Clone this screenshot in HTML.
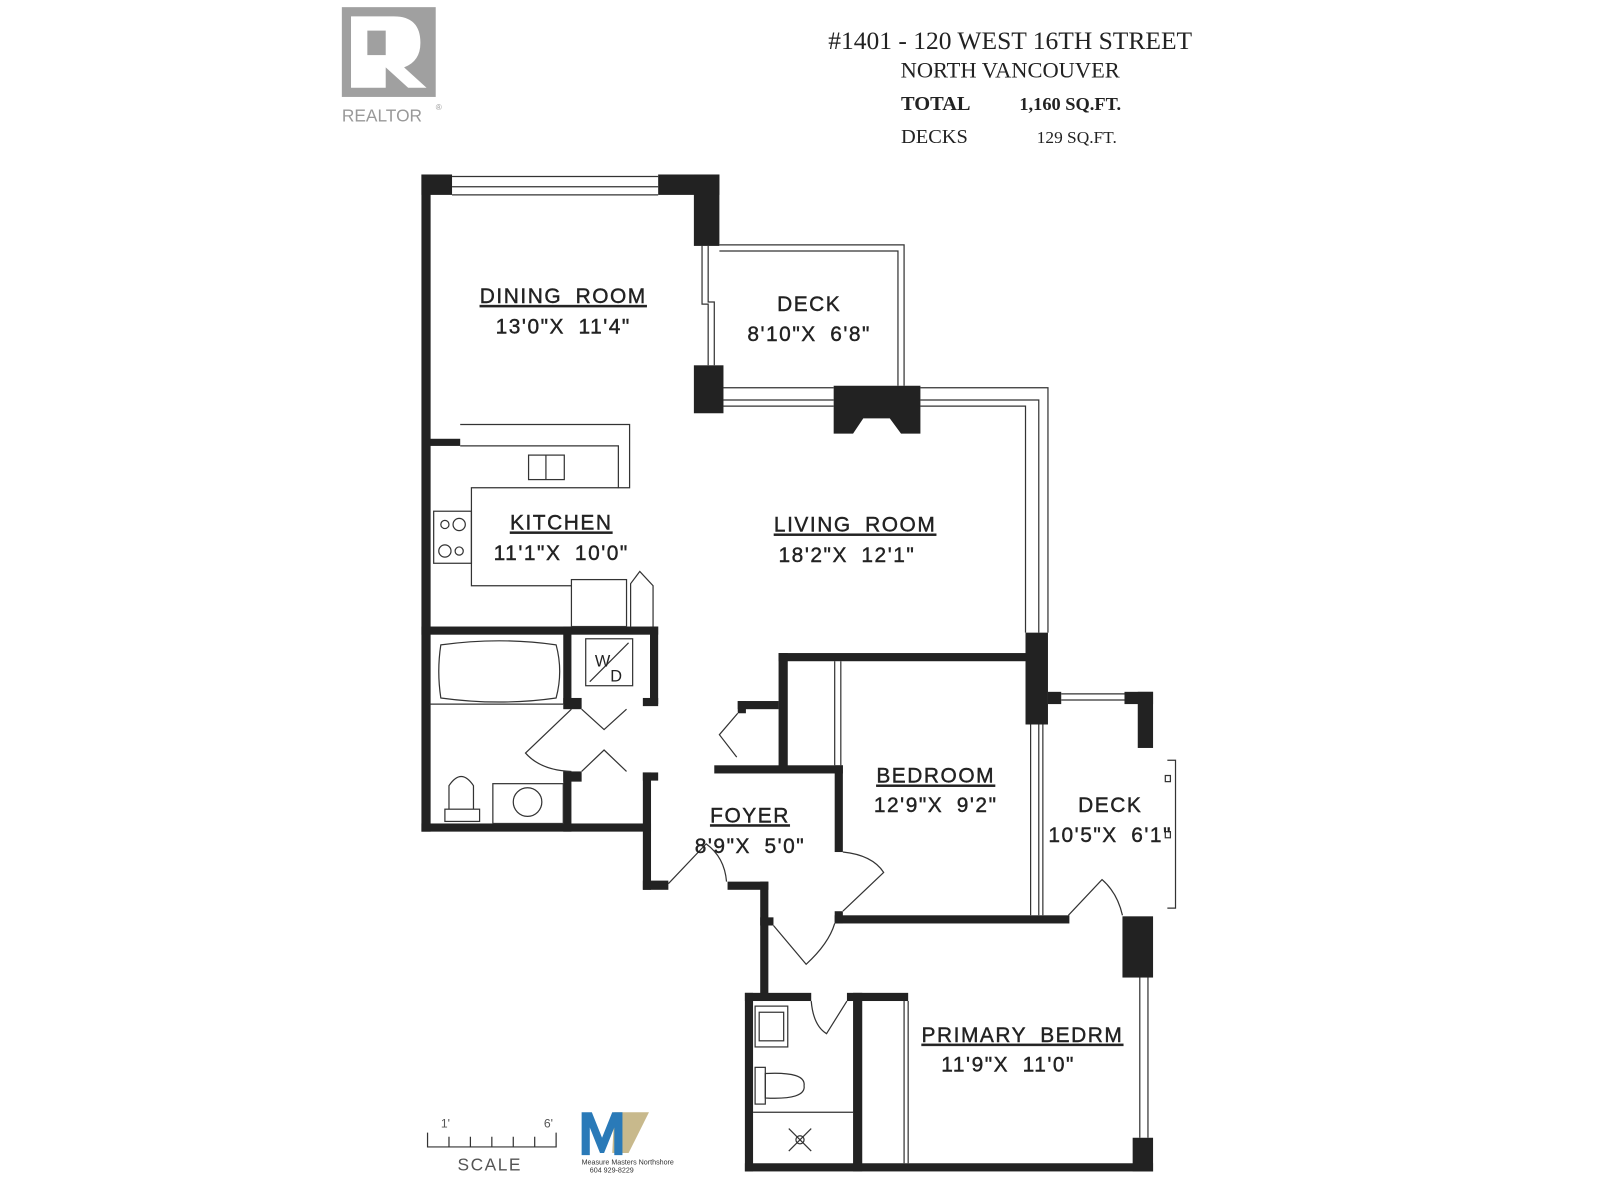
<!DOCTYPE html>
<html><head><meta charset="utf-8"><style>
html,body{margin:0;padding:0;background:#fff;}
svg{display:block;}
.l{font-family:"Liberation Sans",sans-serif;font-size:20.5px;fill:#222;text-anchor:middle;letter-spacing:1.5px;word-spacing:6px;stroke:#222;stroke-width:0.4;}
.s{font-family:"Liberation Serif",serif;fill:#222;}
</style></head><body>
<svg width="1600" height="1200" viewBox="0 0 1568 1176" xmlns="http://www.w3.org/2000/svg">
<rect width="1568" height="1176" fill="#fff"/>
<!-- Realtor logo -->
<rect x="335" y="7" width="92" height="88" fill="#a0a0a0"/>
<path d="M344 16 H386 Q412 16 412 42 Q412 60 396 66 L418 86 H400 L378 66 V86 H344 Z" fill="#fff"/>
<rect x="360" y="30" width="18" height="24" fill="#a0a0a0"/>
<text x="335" y="119" font-family="Liberation Sans,sans-serif" font-size="17" fill="#999">REALTOR</text>
<text x="427" y="108" font-family="Liberation Sans,sans-serif" font-size="8" fill="#999">®</text>
<!-- header -->
<text class="s" x="990" y="48" font-size="25" text-anchor="middle">#1401 - 120 WEST 16TH STREET</text>
<text class="s" x="990" y="76" font-size="22" text-anchor="middle">NORTH VANCOUVER</text>
<text class="s" x="883" y="108" font-size="20" font-weight="bold">TOTAL</text>
<text class="s" x="999" y="108" font-size="18" font-weight="bold">1,160 SQ.FT.</text>
<text class="s" x="883" y="140" font-size="20">DECKS</text>
<text class="s" x="1016" y="140" font-size="17">129 SQ.FT.</text>

<g fill="#222">
<rect x="413" y="171" width="9" height="644"/>
<rect x="413" y="171" width="30" height="20"/>
<rect x="645" y="171" width="60" height="20"/>
<rect x="680" y="171" width="25" height="70"/>
<rect x="680" y="358" width="29" height="47"/>
<path d="M817 378 H902 V425 H883 L872 410 H846 L836 425 H817 Z"/>
<rect x="421" y="430" width="30" height="7"/>
<rect x="413" y="614" width="232" height="8"/>
<rect x="552" y="614" width="8" height="76"/>
<rect x="552" y="684" width="18" height="11"/>
<rect x="637" y="614" width="8" height="76"/>
<rect x="630" y="684" width="15" height="8"/>
<rect x="552" y="756" width="18" height="10"/>
<rect x="552" y="756" width="8" height="59"/>
<rect x="630" y="757" width="15" height="8"/>
<rect x="630" y="757" width="8" height="115"/>
<rect x="413" y="807" width="225" height="8"/>
<rect x="630" y="863" width="25" height="9"/>
<rect x="763" y="640" width="250" height="8"/>
<rect x="763" y="640" width="9" height="117"/>
<rect x="723" y="687" width="40" height="8"/>
<rect x="723" y="687" width="8" height="12"/>
<rect x="700" y="750" width="126" height="8"/>
<rect x="818" y="750" width="8" height="85"/>
<rect x="818" y="893" width="8" height="12"/>
<rect x="818" y="897" width="230" height="8"/>
<rect x="1005" y="620" width="22" height="90"/>
<rect x="1027" y="678" width="13" height="12"/>
<rect x="1102" y="678" width="28" height="12"/>
<rect x="1115" y="678" width="15" height="55"/>
<rect x="1100" y="898" width="30" height="60"/>
<rect x="1110" y="1115" width="20" height="33"/>
<rect x="713" y="864" width="40" height="8"/>
<rect x="745" y="864" width="8" height="111"/>
<rect x="745" y="899" width="13" height="8"/>
<rect x="730" y="973" width="8" height="175"/>
<rect x="730" y="973" width="65" height="8"/>
<rect x="830" y="973" width="60" height="8"/>
<rect x="836" y="973" width="9" height="175"/>
<rect x="730" y="1140" width="400" height="8"/>
</g>

<g fill="none" stroke="#333" stroke-width="1.2">
<line x1="443" y1="173" x2="645" y2="173"/><line x1="443" y1="183" x2="645" y2="183"/><line x1="443" y1="191" x2="645" y2="191"/>
<polyline points="705,240 886,240 886,378"/><polyline points="705,246 880,246 880,378"/>
<polyline points="688,241 688,298 694,298 694,358"/><polyline points="694,241 694,296 700,296 700,358"/>
<line x1="709" y1="380" x2="817" y2="380"/><line x1="709" y1="392" x2="817" y2="392"/><line x1="709" y1="398" x2="817" y2="398"/>
<polyline points="902,380 1027,380 1027,620"/><polyline points="902,392 1018,392 1018,620"/><polyline points="902,398 1005,398 1005,620"/>
<polyline points="451,416 617,416 617,478 606,478 606,437 451,437"/>
<polyline points="606,478 462,478 462,574 560,574"/>
<rect x="518" y="446" width="35" height="24"/><line x1="535" y1="446" x2="535" y2="470"/>
<rect x="425" y="501" width="37" height="51"/>
<circle cx="436" cy="514" r="4"/><circle cx="450" cy="514" r="6"/><circle cx="436" cy="540" r="6"/><circle cx="450" cy="540" r="4"/>
<rect x="560" y="568" width="54" height="46"/>
<polyline points="618,614 618,572 627,560 640,574 640,614"/>
<path d="M432 632 Q490 624 545 632 Q552 658 545 684 Q490 692 432 684 Q428 658 432 632 Z"/>
<line x1="421" y1="690" x2="552" y2="690"/>
<rect x="574" y="626" width="46" height="46"/><line x1="578" y1="668" x2="616" y2="630"/>
<path d="M440 793 V770 Q452 752 464 770 V793"/><rect x="436" y="793" width="34" height="12"/>
<rect x="483" y="768" width="69" height="39"/><circle cx="517" cy="786" r="14"/>
<polyline points="570,695 592,715 614,695"/>
<polyline points="570,756 592,735 614,756"/>
<path d="M560 695 L515 738 Q530 755 560 756"/>
<polyline points="723,699 705,720 722,742"/>
<line x1="818" y1="648" x2="818" y2="750"/><line x1="824" y1="648" x2="824" y2="750"/>
<path d="M655 866 L692 827 Q710 840 712 864"/>
<path d="M826 835 Q855 838 866 855 L826 893"/>
<path d="M758 907 L790 945 Q812 925 818 905"/>
<line x1="1040" y1="680" x2="1102" y2="680"/><line x1="1040" y1="686" x2="1102" y2="686"/>
<line x1="1010" y1="710" x2="1010" y2="897"/><line x1="1018" y1="710" x2="1018" y2="897"/><line x1="1022" y1="710" x2="1022" y2="897"/>
<polyline points="1144,745 1152,745 1152,890 1144,890"/>
<rect x="1142" y="815" width="5" height="6"/><rect x="1142" y="760" width="5" height="6"/>
<path d="M1047 897 L1080 862 Q1095 875 1100 897"/>
<line x1="1117" y1="958" x2="1117" y2="1115"/><line x1="1125" y1="958" x2="1125" y2="1115"/>
<line x1="886" y1="981" x2="886" y2="1140"/><line x1="890" y1="981" x2="890" y2="1140"/>
<path d="M795 981 Q797 1005 810 1013 L830 981"/>
<rect x="740" y="986" width="32" height="40"/><rect x="744" y="992" width="24" height="28"/>
<rect x="740" y="1046" width="10" height="36"/><path d="M750 1052 Q790 1050 788 1064 Q790 1078 750 1076 Z"/>
<line x1="738" y1="1090" x2="836" y2="1090"/>
<circle cx="784" cy="1117" r="4"/><line x1="773" y1="1106" x2="795" y2="1128"/><line x1="795" y1="1106" x2="773" y2="1128"/>
<polyline points="419,1110 419,1124 545,1124 545,1110"/>
<line x1="440" y1="1114" x2="440" y2="1124"/><line x1="461" y1="1114" x2="461" y2="1124"/><line x1="482" y1="1114" x2="482" y2="1124"/><line x1="503" y1="1114" x2="503" y2="1124"/><line x1="524" y1="1114" x2="524" y2="1124"/>
</g>
<text x="583" y="653" font-family="Liberation Sans,sans-serif" font-size="16" fill="#222">W</text>
<text x="598" y="668" font-family="Liberation Sans,sans-serif" font-size="16" fill="#222">D</text>
<text x="432" y="1105" font-family="Liberation Sans,sans-serif" font-size="12" fill="#555">1'</text>
<text x="533" y="1105" font-family="Liberation Sans,sans-serif" font-size="12" fill="#555">6'</text>
<text x="480" y="1147" font-family="Liberation Sans,sans-serif" font-size="17" fill="#555" text-anchor="middle" letter-spacing="1.5">SCALE</text>
<path d="M602 1090 H636 L616 1130 H600 Z" fill="#c8b98c"/>
<path d="M570 1090 H580 L590 1115 L600 1090 H610 V1132 H602 V1105 L592 1130 H588 L578 1105 V1132 H570 Z" fill="#2a7ab8"/>
<text x="570" y="1141" font-family="Liberation Sans,sans-serif" font-size="7" fill="#333">Measure Masters Northshore</text>
<text x="578" y="1149" font-family="Liberation Sans,sans-serif" font-size="7" fill="#333">604 929-8229</text>

<g class="l">
<text x="552" y="297" text-decoration="underline">DINING ROOM</text><text x="552" y="327">13'0"X 11'4"</text>
<text x="793" y="305">DECK</text><text x="793" y="334">8'10"X 6'8"</text>
<text x="550" y="519" text-decoration="underline">KITCHEN</text><text x="550" y="549">11'1"X 10'0"</text>
<text x="838" y="521" text-decoration="underline">LIVING ROOM</text><text x="830" y="551">18'2"X 12'1"</text>
<text x="917" y="767" text-decoration="underline">BEDROOM</text><text x="917" y="796">12'9"X 9'2"</text>
<text x="1088" y="796">DECK</text><text x="1088" y="825">10'5"X 6'1"</text>
<text x="735" y="806" text-decoration="underline">FOYER</text><text x="735" y="836">8'9"X 5'0"</text>
<text x="1002" y="1021" text-decoration="underline">PRIMARY BEDRM</text><text x="988" y="1050">11'9"X 11'0"</text>
</g>
</svg>
</body></html>
